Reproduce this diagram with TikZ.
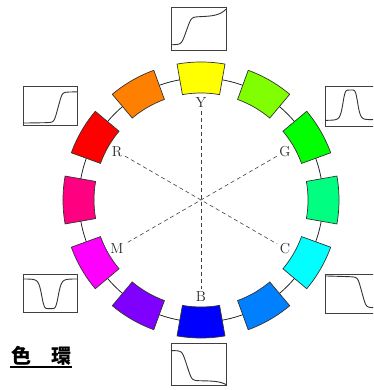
\documentclass[tikz,border=0pt]{standalone}
\usepackage{fontspec}
\newfontfamily\cjk{Noto Sans CJK JP}
\definecolor{cY}{HTML}{FFFF00}
\definecolor{cYG}{HTML}{80FF00}
\definecolor{cG}{HTML}{00FF00}
\definecolor{cGC}{HTML}{00FF80}
\definecolor{cC}{HTML}{00FFFF}
\definecolor{cCB}{HTML}{0080FF}
\definecolor{cB}{HTML}{0000FF}
\definecolor{cBM}{HTML}{8000FF}
\definecolor{cM}{HTML}{FF00FF}
\definecolor{cMR}{HTML}{FF0080}
\definecolor{cR}{HTML}{FF0000}
\definecolor{cRY}{HTML}{FF8000}
\definecolor{edge}{HTML}{333333}
\begin{document}
\begin{tikzpicture}[x=1pt,y=-1pt,
  declare function={
    cl(\t)=max(-9,min(9,\t));
    sg(\t)=0.5+0.5*cl(\t)/sqrt(sqrt(1+cl(\t)*cl(\t)*cl(\t)*cl(\t)));
    bq(\d)=max(-4,min(4,\d));
    bp(\d)=1/(1+bq(\d)*bq(\d)*bq(\d)*bq(\d)*bq(\d)*bq(\d));
    pe(\x)=(\x*\x*\x*\x)*(\x*\x*\x*\x);
  },
  seg/.style={draw=edge,line width=0.7pt},
  ringline/.style={draw=black!85,line width=0.8pt},
  lbl/.style={font=\fontsize{14.5}{14.5}\selectfont,inner sep=2.5pt,text=black!85},
  guide/.style={draw=black!75,line width=0.6pt,dash pattern=on 4pt off 3pt},
  specbox/.style={draw=black!75,line width=0.8pt,minimum width=#1,inner sep=0pt,outer sep=0pt,fill=white},
  curve/.style={draw=black!80,line width=0.9pt,smooth},
  ttl/.style={font=\cjk\bfseries\fontsize{20}{20}\selectfont,inner sep=0pt}
]
\useasboundingbox (0,0) rectangle (373,390);
\clip (0,0) rectangle (373,390);
\coordinate (O) at (201,200);
\draw[ringline] (O) circle (122);
\begin{scope}[shift={(O)}]
\foreach \t/\c in {-90/cY,-60/cYG,-30/cG,0/cGC,30/cC,60/cCB,90/cB,120/cBM,150/cM,180/cMR,210/cR,240/cRY}{
  \filldraw[seg,fill=\c] (\t-10:138) arc[start angle=\t-10,end angle=\t+10,radius=138]
    -- (\t+10:107) arc[start angle=\t+10,end angle=\t-10,radius=107] -- cycle;
}
\node[lbl] (lY) at (-90:97) {Y};
\node[lbl] (lG) at (-30:97) {G};
\node[lbl] (lC) at (30:97) {C};
\node[lbl] (lB) at (90:97) {B};
\node[lbl] (lM) at (150:97) {M};
\node[lbl] (lR) at (210:97) {R};
\end{scope}
\draw[guide] (lY) -- (lB);
\draw[guide] (lR) -- (lC);
\draw[guide] (lG) -- (lM);
% spectrum boxes
\node[specbox=55pt,minimum height=43pt] (bY) at (198.5,28.5) {};
\node[specbox=54pt,minimum height=39pt] (bR) at (50,105.5) {};
\node[specbox=55pt,minimum height=40pt] (bG) at (352.5,106) {};
\node[specbox=54pt,minimum height=38pt] (bM) at (50,293) {};
\node[specbox=55pt,minimum height=39pt] (bC) at (352.5,293.5) {};
\node[specbox=55pt,minimum height=42pt] (bB) at (198.5,364) {};
\begin{scope}[shift={(bY.south west)},yscale=-1]
  \draw[curve] plot[domain=0:1,samples=80] ({55*\x},{43*(0.12+0.03*\x+0.64*sg((\x-0.28)*11)+0.16*pe(\x))});
\end{scope}
\begin{scope}[shift={(bR.south west)},yscale=-1]
  \draw[curve] plot[domain=0:1,samples=80] ({54*\x},{39*(0.05+0.02*\x+0.78*sg((\x-0.65)*13))});
\end{scope}
\begin{scope}[shift={(bG.south west)},yscale=-1]
  \draw[curve] plot[domain=0:1,samples=80] ({55*\x},{40*(0.14+0.02*\x+0.75*bp((\x-0.46)/0.14))});
\end{scope}
\begin{scope}[shift={(bM.south west)},yscale=-1]
  \draw[curve] plot[domain=0:1,samples=80] ({54*\x},{38*(0.87-0.78*bp((\x-0.5)/0.16))});
\end{scope}
\begin{scope}[shift={(bC.south west)},yscale=-1]
  \draw[curve] plot[domain=0:1,samples=80] ({55*\x},{39*(0.95-0.04*\x-0.78*sg((\x-0.67)*13))});
\end{scope}
\begin{scope}[shift={(bB.south west)},yscale=-1]
  \draw[curve] plot[domain=0:1,samples=80] ({55*\x},{42*(0.10+0.72*(1-sg((\x-0.29)*11))-0.09*pe(\x))});
\end{scope}
% title
\node[ttl] (title) at (41,356) {色　環};
\coordinate (u1) at (10,367);
\coordinate (u2) at (72,367);
\draw[line width=2pt] (u1) -- (u2);
\end{tikzpicture}
\end{document}
